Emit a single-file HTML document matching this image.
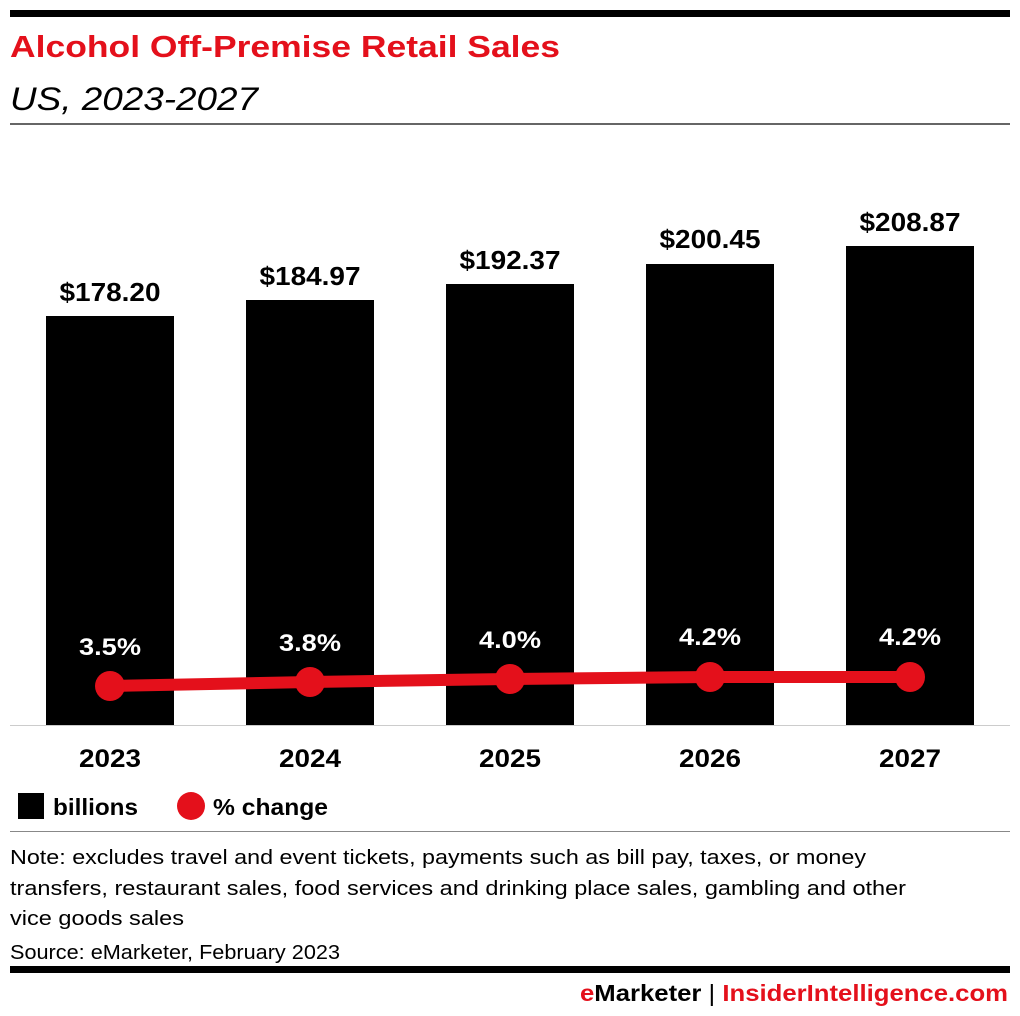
<!DOCTYPE html>
<html><head><meta charset="utf-8"><style>
html,body{margin:0;padding:0;background:#fff;}
svg{display:block;font-family:"Liberation Sans",sans-serif;}
</style></head><body>
<svg width="1020" height="1016" viewBox="0 0 1020 1016" xmlns="http://www.w3.org/2000/svg">
<rect x="10" y="10" width="1000" height="7" fill="#000"/>
<text x="10" y="57" font-size="31" font-weight="bold" fill="#e4101b" textLength="550" lengthAdjust="spacingAndGlyphs">Alcohol Off-Premise Retail Sales</text>
<text x="10" y="110" font-size="32" font-style="italic" fill="#000" textLength="248" lengthAdjust="spacingAndGlyphs">US, 2023-2027</text>
<rect x="10" y="123" width="1000" height="2" fill="#666"/>
<g fill="#000">
<rect x="46" y="316" width="128" height="410"/>
<rect x="246" y="300" width="128" height="426"/>
<rect x="446" y="284" width="128" height="442"/>
<rect x="646" y="264" width="128" height="462"/>
<rect x="846" y="246" width="128" height="480"/>
</g>
<rect x="10" y="725" width="1000" height="1" fill="#ccc"/>
<g font-size="26" font-weight="bold" text-anchor="middle" fill="#000">
<text x="110" y="301" textLength="101" lengthAdjust="spacingAndGlyphs">$178.20</text>
<text x="310" y="285" textLength="101" lengthAdjust="spacingAndGlyphs">$184.97</text>
<text x="510" y="269" textLength="101" lengthAdjust="spacingAndGlyphs">$192.37</text>
<text x="710" y="248" textLength="101" lengthAdjust="spacingAndGlyphs">$200.45</text>
<text x="910" y="231" textLength="101" lengthAdjust="spacingAndGlyphs">$208.87</text>
</g>
<polyline points="110,686 310,682 510,679 710,677 910,677" fill="none" stroke="#e4101b" stroke-width="12"/>
<g fill="#e4101b">
<circle cx="110" cy="686" r="15"/><circle cx="310" cy="682" r="15"/><circle cx="510" cy="679" r="15"/><circle cx="710" cy="677" r="15"/><circle cx="910" cy="677" r="15"/>
</g>
<g font-size="24" font-weight="bold" text-anchor="middle" fill="#fff">
<text x="110" y="655" textLength="62" lengthAdjust="spacingAndGlyphs">3.5%</text>
<text x="310" y="651" textLength="62" lengthAdjust="spacingAndGlyphs">3.8%</text>
<text x="510" y="648" textLength="62" lengthAdjust="spacingAndGlyphs">4.0%</text>
<text x="710" y="645" textLength="62" lengthAdjust="spacingAndGlyphs">4.2%</text>
<text x="910" y="645" textLength="62" lengthAdjust="spacingAndGlyphs">4.2%</text>
</g>
<g font-size="25" font-weight="bold" text-anchor="middle" fill="#000">
<text x="110" y="767" textLength="62" lengthAdjust="spacingAndGlyphs">2023</text>
<text x="310" y="767" textLength="62" lengthAdjust="spacingAndGlyphs">2024</text>
<text x="510" y="767" textLength="62" lengthAdjust="spacingAndGlyphs">2025</text>
<text x="710" y="767" textLength="62" lengthAdjust="spacingAndGlyphs">2026</text>
<text x="910" y="767" textLength="62" lengthAdjust="spacingAndGlyphs">2027</text>
</g>
<rect x="18" y="793" width="26" height="26" fill="#000"/>
<text x="53" y="815" font-size="23" font-weight="bold" textLength="85" lengthAdjust="spacingAndGlyphs">billions</text>
<circle cx="191" cy="806" r="14" fill="#e4101b"/>
<text x="213" y="815" font-size="23" font-weight="bold" textLength="115" lengthAdjust="spacingAndGlyphs">% change</text>
<rect x="10" y="831" width="1000" height="1" fill="#888"/>
<g font-size="20" fill="#000">
<text x="10" y="864" textLength="856" lengthAdjust="spacingAndGlyphs">Note: excludes travel and event tickets, payments such as bill pay, taxes, or money</text>
<text x="10" y="895" textLength="896" lengthAdjust="spacingAndGlyphs">transfers, restaurant sales, food services and drinking place sales, gambling and other</text>
<text x="10" y="925" textLength="174" lengthAdjust="spacingAndGlyphs">vice goods sales</text>
<text x="10" y="959" textLength="330" lengthAdjust="spacingAndGlyphs">Source: eMarketer, February 2023</text>
</g>
<rect x="10" y="966" width="1000" height="7" fill="#000"/>
<text x="1008" y="1001" font-size="23" font-weight="bold" text-anchor="end" textLength="428" lengthAdjust="spacingAndGlyphs"><tspan fill="#e4101b">e</tspan><tspan fill="#000">Marketer</tspan><tspan fill="#000" font-weight="normal"> | </tspan><tspan fill="#e4101b">InsiderIntelligence.com</tspan></text>
</svg>
</body></html>
